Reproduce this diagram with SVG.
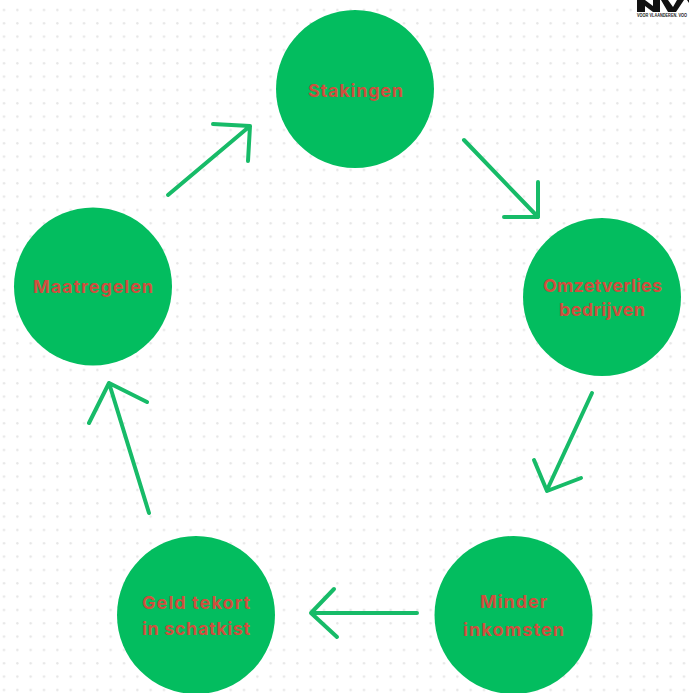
<svg xmlns="http://www.w3.org/2000/svg" width="689" height="693" viewBox="0 0 689 693">
<style>
.node{fill:#03bd5f}
.label{font-family:"Inter","Liberation Sans",sans-serif;font-size:18px;font-weight:700;fill:#cf4f3e;text-anchor:middle}
.arrow{fill:none;stroke:#17bb68;stroke-width:4;stroke-linecap:round;stroke-linejoin:round}
</style>
<defs>
<pattern id="dots" x="2.700" y="8.700" width="13.333" height="13.333" patternUnits="userSpaceOnUse"><circle cx="1.300" cy="1.300" r="1.200" fill="#e6e6e6"/></pattern>
</defs>
<rect width="689" height="693" fill="#fff"/>
<rect width="689" height="693" fill="url(#dots)"/>
<g id="logo">
<rect x="636" y="0" width="53" height="12" fill="#fff"/>
<path d="M637 0h8l8 6v-6h7v12h-7l-8-6v6h-8zM661 0h7l5 7 4-7h7l-8 12h-8zM687 0h2v3z" fill="#111"/>
<text x="637" y="16.500" font-family="Liberation Sans,sans-serif" font-size="4.500" font-weight="700" fill="#222" textLength="50" lengthAdjust="spacingAndGlyphs">VOOR VLAANDEREN. VOO</text>
</g>
<g id="connectors">
<path class="arrow" d="M464 140L538 217M538 182V217H504"/>
<path class="arrow" d="M592 393L547 490M534 460L547 491L581 478"/>
<path class="arrow" d="M417 613H311M334 589L311 613L337 637"/>
<path class="arrow" d="M149 513L109 383M89 423L109 383L147 402"/>
<path class="arrow" d="M168 195L250 126M213 124L250 126L248 161"/>
</g>
<g id="stakingen"><circle class="node" cx="355" cy="89" r="79"/><text class="label" x="355.500" y="97" textLength="95">Stakingen</text></g>
<g id="omzetverlies"><circle class="node" cx="602" cy="297" r="79"/><text class="label" x="602.500" y="292" textLength="119">Omzetverlies</text><text class="label" x="602" y="316" textLength="86">bedrijven</text></g>
<g id="minder"><circle class="node" cx="513.500" cy="615" r="79"/><text class="label" x="513.500" y="608" textLength="67">Minder</text><text class="label" x="513.500" y="636" textLength="101">inkomsten</text></g>
<g id="geld"><circle class="node" cx="196" cy="615" r="79"/><text class="label" x="196" y="609" textLength="108">Geld tekort</text><text class="label" x="196" y="635" textLength="108">in schatkist</text></g>
<g id="maatregelen"><circle class="node" cx="93" cy="286.500" r="79"/><text class="label" x="93" y="293" textLength="120">Maatregelen</text></g>
</svg>
